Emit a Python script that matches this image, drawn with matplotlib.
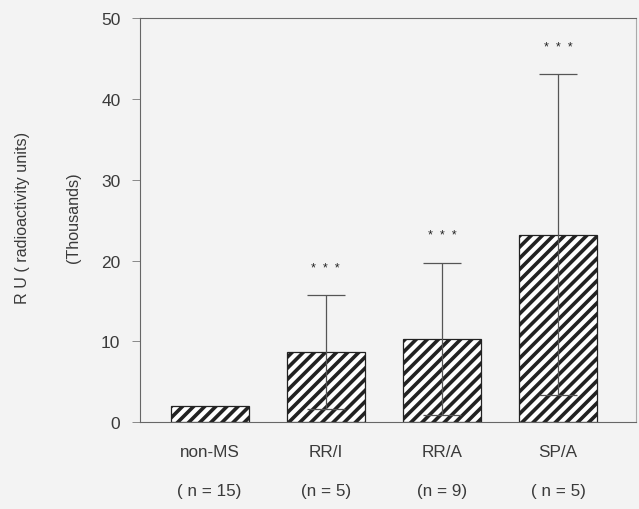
import matplotlib.pyplot as plt
import numpy as np

plt.rcParams['font.family'] = ['Liberation Sans', 'DejaVu Sans']
plt.rcParams['hatch.linewidth'] = 2.6

groups = ['non-MS', 'RR/I', 'RR/A', 'SP/A']
n_labels = ['( n = 15)', '(n = 5)', '(n = 9)', '( n = 5)']
means = [2.0, 8.7, 10.3, 23.2]      # thousands of RU
sds = [0.0, 7.0, 9.4, 19.8]
signif = ['', '*  *  *', '*  *  *', '*  *  *']

ink = '#3a3a3a'
fig = plt.figure(figsize=(6.39, 5.10), dpi=100, facecolor='#f3f3f3')
ax = fig.add_axes([0.219, 0.17, 0.776, 0.793])
ax.set_facecolor('#f3f3f3')

x = np.arange(len(groups))
ax.bar(x, means, width=0.67, color='white', edgecolor='#222222',
       hatch='///', linewidth=0.9, zorder=2)
ax.errorbar(x[1:], means[1:], yerr=sds[1:], fmt='none', ecolor='#555555',
            elinewidth=0.9, capsize=13.5, capthick=0.9, zorder=3)

for xi, m, s, lab in zip(x, means, sds, signif):
    if lab:
        ax.text(xi, m + s + 3.4, lab, ha='center', va='center',
                fontsize=9, color='#222222')

ax.set_xlim(-0.60, 3.67)
ax.set_ylim(0, 50)
ax.set_yticks([0, 10, 20, 30, 40, 50])
ax.tick_params(axis='y', direction='out', length=6, width=0.6,
               colors='#777777', labelcolor=ink, labelsize=12.5, pad=8)
ax.set_xticks([])
for sp in ax.spines.values():
    sp.set_color('#666666')
    sp.set_linewidth(0.8)
ax.spines['right'].set_color('#aaaaaa')

for xi, g, nl in zip(x, groups, n_labels):
    ax.text(xi, -3.6, g, ha='center', va='center', fontsize=12.3, color=ink)
    ax.text(xi, -8.4, nl, ha='center', va='center', fontsize=12.3, color=ink)

fig.text(0.035, 0.573, 'R U ( radioactivity units)', rotation=90,
         ha='center', va='center', fontsize=11.6, color=ink)
fig.text(0.115, 0.573, '(Thousands)', rotation=90,
         ha='center', va='center', fontsize=11.6, color=ink)

fig.savefig('out.png', dpi=100, facecolor=fig.get_facecolor())
